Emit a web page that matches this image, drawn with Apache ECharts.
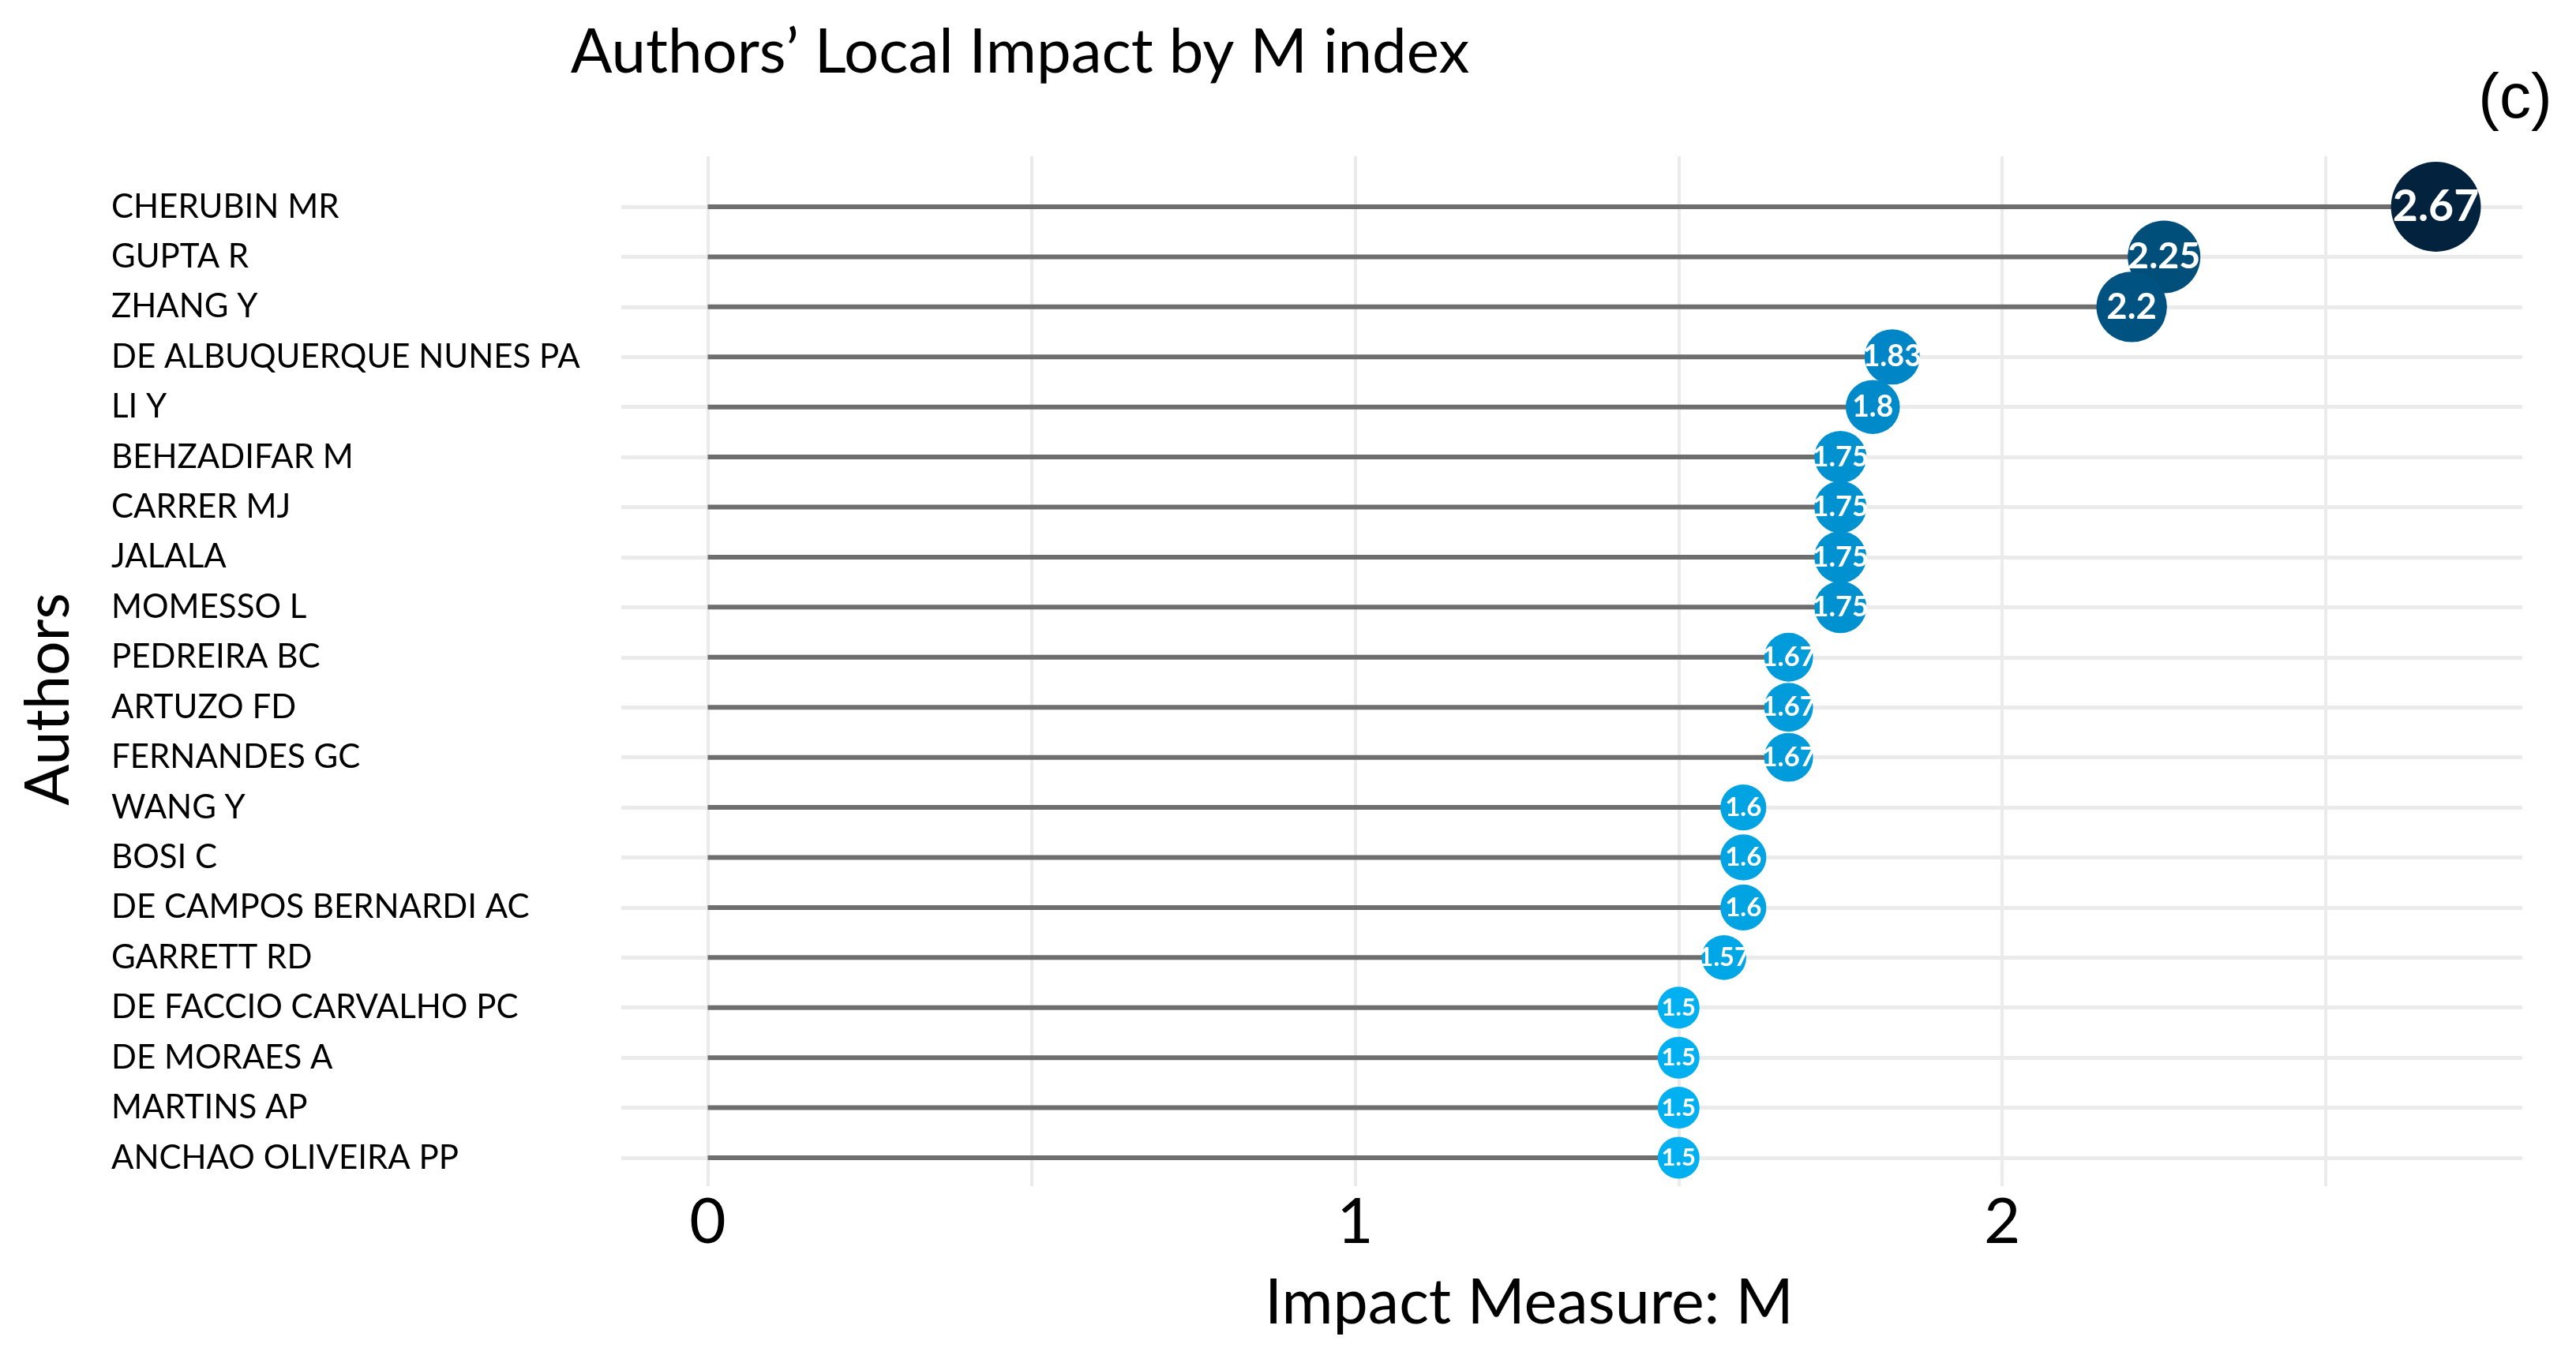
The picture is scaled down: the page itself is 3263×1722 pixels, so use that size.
<!DOCTYPE html>
<html>
<head>
<meta charset="utf-8">
<script src="https://cdn.jsdelivr.net/npm/echarts@6/dist/echarts.min.js"></script>
<style>
html,body{margin:0;padding:0;background:#fff;}
#chart{width:3263px;height:1722px;}
</style>
</head>
<body>
<div id="chart"></div>
<script>
// ---- data ----
const authors = [
  "CHERUBIN MR", "GUPTA R", "ZHANG Y", "DE ALBUQUERQUE NUNES PA", "LI Y",
  "BEHZADIFAR M", "CARRER MJ", "JALALA", "MOMESSO L", "PEDREIRA BC",
  "ARTUZO FD", "FERNANDES GC", "WANG Y", "BOSI C", "DE CAMPOS BERNARDI AC",
  "GARRETT RD", "DE FACCIO CARVALHO PC", "DE MORAES A", "MARTINS AP", "ANCHAO OLIVEIRA PP"
];
const mIndex = [2.67, 2.25, 2.2, 1.83, 1.8, 1.75, 1.75, 1.75, 1.75, 1.67,
                1.67, 1.67, 1.6, 1.6, 1.6, 1.57, 1.5, 1.5, 1.5, 1.5];
const xTickLabels = [0, 1, 2];
const xGridValues = [0, 0.5, 1, 1.5, 2, 2.5];
const xRange = [-0.1335, 2.8035];

const titleText = "Authors\u2019 Local Impact by M index";
const xTitle = "Impact Measure: M";
const yTitle = "Authors";
const panelTag = "(c)";

// ---- styling helpers ----
const colorStops = [[1.5, [0, 176, 240]], [1.75, [0, 145, 208]], [1.83, [0, 134, 198]],
                    [2.2, [0, 83, 129]], [2.67, [3, 34, 61]]];
function colorFor(v) {
  for (let i = 0; i < colorStops.length - 1; i++) {
    const a = colorStops[i], b = colorStops[i + 1];
    if (v <= b[0]) {
      const t = Math.max(0, (v - a[0]) / (b[0] - a[0]));
      const c = a[1].map((x, k) => Math.round(x + (b[1][k] - x) * t));
      return 'rgb(' + c.join(',') + ')';
    }
  }
  const l = colorStops[colorStops.length - 1][1];
  return 'rgb(' + l.join(',') + ')';
}
function diam(v) { return 53 + 52 * (v - 1.5); }
function labelSize(v) { return 31 + 0.4 * (diam(v) - 53); }

const FONT = 'Lato, "Open Sans", sans-serif';
const W = 3263, H = 1722;
const gridLeft = 787, gridRight = 68;
const rowTop = 262, rowBottom = 1467;
const band = (rowBottom - rowTop) / (authors.length - 1);

const chart = echarts.init(document.getElementById('chart'), null, {renderer: 'canvas'});

const option = {
  backgroundColor: '#ffffff',
  animation: false,
  grid: [
    {left: gridLeft, right: gridRight, top: rowTop - band / 2, bottom: H - (rowBottom + band / 2)},
    {left: gridLeft, right: gridRight, top: 198, bottom: H - 1503}
  ],
  xAxis: [
    {
      type: 'value', gridIndex: 0, min: xRange[0], max: xRange[1],
      axisLine: {show: false}, axisTick: {show: false}, splitLine: {show: false},
      axisLabel: {
        customValues: xTickLabels, fontSize: 80, fontFamily: FONT, color: '#000', margin: 10
      }
    },
    {
      type: 'value', gridIndex: 1, min: xRange[0], max: xRange[1], show: false,
      splitLine: {show: false}
    }
  ],
  yAxis: [
    {
      type: 'category', gridIndex: 0, data: authors, inverse: true,
      axisLine: {show: false}, axisTick: {show: false}, splitLine: {show: false},
      axisLabel: {
        align: 'left', margin: gridLeft - 141, fontSize: 42, fontFamily: FONT, color: '#000'
      }
    },
    {
      type: 'value', gridIndex: 1, min: 0, max: 1, show: false, splitLine: {show: false}
    }
  ],
  series: [
    {
      // vertical grid lines
      type: 'line', xAxisIndex: 1, yAxisIndex: 1, z: 0,
      data: [[0, 0]], symbol: 'none', lineStyle: {opacity: 0}, silent: true,
      markLine: {
        z: 0, silent: true, symbol: 'none', label: {show: false},
        lineStyle: {color: '#ebebeb', width: 4, type: 'solid'},
        data: xGridValues.map(v => ({xAxis: v}))
      }
    },
    {
      // horizontal grid lines
      type: 'line', xAxisIndex: 0, yAxisIndex: 0, z: 0,
      data: [], symbol: 'none', lineStyle: {opacity: 0}, silent: true,
      markLine: {
        z: 0, silent: true, symbol: 'none', label: {show: false},
        lineStyle: {color: '#ebebeb', width: 5, type: 'solid'},
        data: authors.map(a => ({yAxis: a}))
      }
    },
    {
      // stems
      type: 'bar', xAxisIndex: 0, yAxisIndex: 0, z: 2,
      data: mIndex, barWidth: 6,
      itemStyle: {color: '#6e6e6e', opacity: 1}, silent: true
    },
    {
      type: 'scatter', xAxisIndex: 0, yAxisIndex: 0, z: 3,
      data: authors.map((a, i) => ({
        value: [mIndex[i], a],
        symbolSize: diam(mIndex[i]),
        itemStyle: {color: colorFor(mIndex[i])},
        label: {fontSize: labelSize(mIndex[i])}
      })),
      itemStyle: {opacity: 1},
      label: {
        show: true, position: 'inside', color: '#ffffff', fontWeight: 'bold', fontFamily: FONT,
        textBorderWidth: 0, textBorderColor: 'transparent',
        formatter: p => String(p.value[0])
      }
    }
  ],
  graphic: [
    {type: 'text', x: 1292, y: 67, style: {text: titleText, fontSize: 78, fontFamily: FONT, fill: '#000', align: 'center', verticalAlign: 'middle'}},
    {type: 'text', x: 3186, y: 127, style: {text: panelTag, fontSize: 80, fontFamily: '"Liberation Sans", Arial, sans-serif', fill: '#000', align: 'center', verticalAlign: 'middle'}},
    {type: 'text', x: 1937, y: 1652, style: {text: xTitle, fontSize: 79, fontFamily: FONT, fill: '#000', align: 'center', verticalAlign: 'middle'}},
    {type: 'text', x: 62, y: 886, rotation: Math.PI / 2, style: {text: yTitle, fontSize: 77, fontFamily: FONT, fill: '#000', align: 'center', verticalAlign: 'middle'}}
  ]
};
chart.setOption(option);
</script>
</body>
</html>
